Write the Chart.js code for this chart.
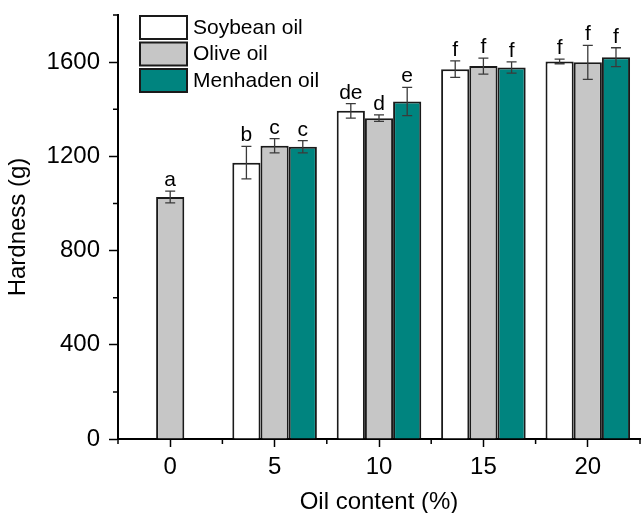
<!DOCTYPE html>
<html>
<head>
<meta charset="utf-8">
<script src="https://cdn.jsdelivr.net/npm/chart.js@4.4.1/dist/chart.umd.min.js"></script>
<style>
  body { margin: 0; background: #fff; }
  #wrap { width: 641px; height: 513px; }
</style>
</head>
<body>
<div id="wrap"><canvas id="myChart"></canvas></div>
<script>
// oil content categories (%)
const categories = ['0', '5', '10', '15', '20'];

// hardness means (g)
const soybean = [null, 1173, 1393, 1570, 1603];
const olive = [1027, 1245, 1362, 1583, 1599];
const menhaden = [null, 1241, 1433, 1577, 1621];

// standard deviations
const soybeanErr = [null, 69, 31, 35, 10];
const oliveErr = [25, 30, 14, 34, 72];
const menhadenErr = [null, 26, 60, 24, 40];

// significance letters
const soybeanLetters = ['', 'b', 'de', 'f', 'f'];
const oliveLetters = ['a', 'c', 'd', 'f', 'f'];
const menhadenLetters = ['', 'c', 'e', 'f', 'f'];

// y axis ticks
const yTicks = [0, 400, 800, 1200, 1600];
const yMinorTicks = [200, 600, 1000, 1400, 1800];

const FONT = "'Liberation Sans', Arial, sans-serif";

const errorBars = {
  id: 'errorBars',
  afterDatasetsDraw(chart) {
    const ctx = chart.ctx;
    const y = chart.scales.y;
    ctx.save();
    chart.data.datasets.forEach(function (ds, di) {
      const meta = chart.getDatasetMeta(di);
      meta.data.forEach(function (bar, i) {
        const v = ds.data[i];
        if (v === null) return;
        const e = ds.errors[i];
        const top = y.getPixelForValue(v + e);
        const bot = y.getPixelForValue(v - e);
        ctx.strokeStyle = '#3a3a3a';
        ctx.lineWidth = 1.3;
        ctx.beginPath();
        ctx.moveTo(bar.x, top); ctx.lineTo(bar.x, bot);
        ctx.moveTo(bar.x - 5, top); ctx.lineTo(bar.x + 5, top);
        ctx.moveTo(bar.x - 5, bot); ctx.lineTo(bar.x + 5, bot);
        ctx.stroke();
        ctx.fillStyle = '#000';
        ctx.font = '21px ' + FONT;
        ctx.textAlign = 'center';
        ctx.textBaseline = 'alphabetic';
        ctx.fillText(ds.letters[i], bar.x, top - 5);
      });
    });
    ctx.restore();
  }
};

const minorTicks = {
  id: 'minorTicks',
  afterDraw(chart) {
    const ctx = chart.ctx;
    const x = chart.scales.x;
    const y = chart.scales.y;
    const area = chart.chartArea;
    ctx.save();
    ctx.strokeStyle = '#000';
    ctx.lineWidth = 1.5;
    ctx.beginPath();
    yMinorTicks.forEach(function (v) {
      const py = y.getPixelForValue(v);
      ctx.moveTo(area.left - 5, py); ctx.lineTo(area.left, py);
    });
    for (let i = -0.5; i < categories.length; i++) {
      const px = x.getPixelForValue(i);
      ctx.moveTo(px, area.bottom); ctx.lineTo(px, area.bottom + 5);
    }
    ctx.stroke();

    // legend
    let ly = 16;
    chart.data.datasets.forEach(function (ds) {
      ctx.fillStyle = ds.backgroundColor;
      ctx.fillRect(140, ly, 47, 23);
      ctx.strokeStyle = '#1a1a1a';
      ctx.lineWidth = 2;
      ctx.strokeRect(140, ly, 47, 23);
      ctx.fillStyle = '#000';
      ctx.font = '21px ' + FONT;
      ctx.textAlign = 'left';
      ctx.textBaseline = 'middle';
      ctx.fillText(ds.label, 193, ly + 12);
      ly += 26.5;
    });
    ctx.restore();
  }
};

const data = {
  labels: categories,
  datasets: [
    { label: 'Soybean oil', data: soybean, errors: soybeanErr, letters: soybeanLetters,
      backgroundColor: '#ffffff', borderColor: '#1a1a1a', borderWidth: 2 },
    { label: 'Olive oil', data: olive, errors: oliveErr, letters: oliveLetters,
      backgroundColor: '#c6c6c6', borderColor: '#1a1a1a', borderWidth: 2 },
    { label: 'Menhaden oil', data: menhaden, errors: menhadenErr, letters: menhadenLetters,
      backgroundColor: '#00847f', borderColor: '#1a1a1a', borderWidth: 2 }
  ]
};

const config = {
  type: 'bar',
  data: data,
  options: {
    responsive: true,
    maintainAspectRatio: false,
    animation: false,
    layout: { padding: { top: 15, right: 1, left: 0, bottom: 0 } },
    datasets: { bar: { categoryPercentage: 0.81, barPercentage: 1.0 } },
    plugins: { legend: { display: false }, tooltip: { enabled: false } },
    scales: {
      x: {
        offset: true,
        afterFit: function (scale) { scale.height = 74; },
        grid: { offset: false, drawOnChartArea: false, drawTicks: true, tickLength: 8,
                tickColor: '#000', tickWidth: 1.5 },
        border: { display: true, color: '#000', width: 2 },
        ticks: { color: '#000', padding: 6, maxRotation: 0, font: { family: FONT, size: 24 } },
        title: { display: true, text: 'Oil content (%)', color: '#000',
                 padding: { top: 0, bottom: -1 }, font: { family: FONT, size: 24, lineHeight: 1 } }
      },
      y: {
        min: 0,
        max: 1800,
        afterFit: function (scale) {
          scale.width = 118;
          scale.paddingTop = 0;
          scale.paddingBottom = 0;
        },
        afterBuildTicks: function (scale) { scale.ticks = yTicks.map(function (v) { return { value: v }; }); },
        grid: { drawOnChartArea: false, drawTicks: true, tickLength: 9, tickColor: '#000', tickWidth: 1.5 },
        border: { display: true, color: '#000', width: 2 },
        ticks: { color: '#000', padding: 9, font: { family: FONT, size: 24 },
                 callback: function (v) { return String(v); } },
        title: { display: true, text: 'Hardness (g)', color: '#000',
                 padding: { top: 6, bottom: 0 }, font: { family: FONT, size: 24, lineHeight: 1 } }
      }
    }
  },
  plugins: [errorBars, minorTicks]
};

const myChart = new Chart(document.getElementById('myChart'), config);
</script>
</body>
</html>
